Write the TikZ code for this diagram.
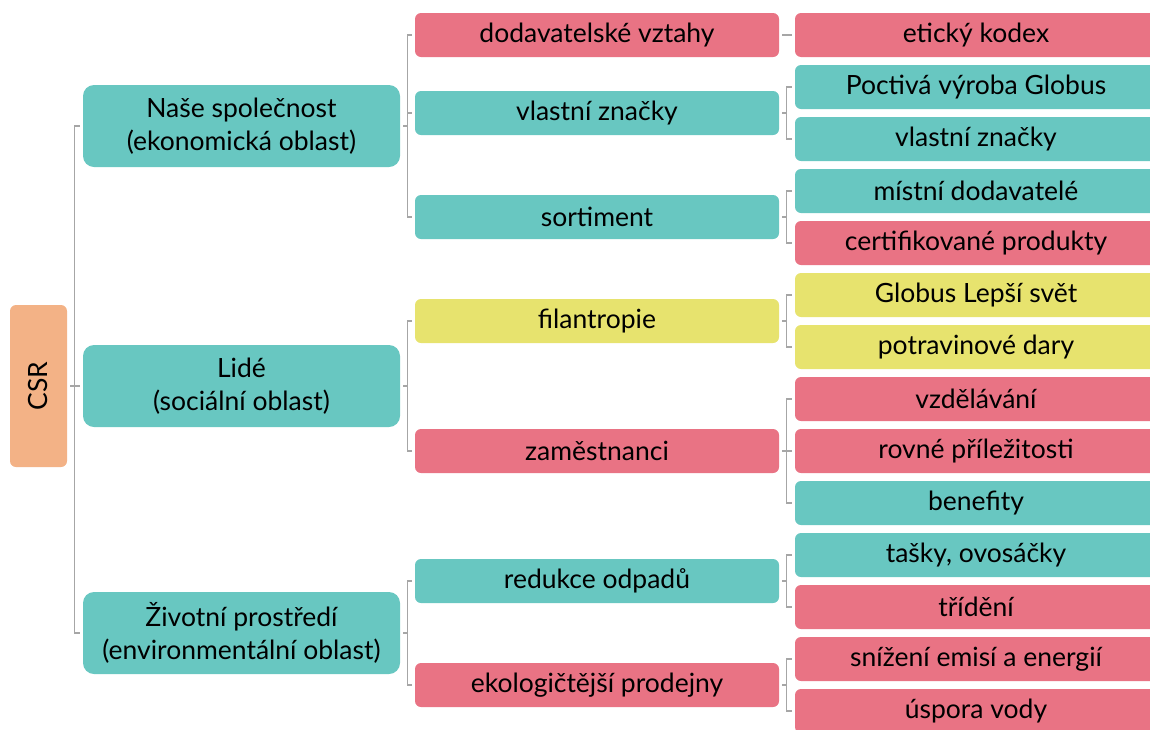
\documentclass[tikz,border=0pt]{standalone}
\usepackage{fontspec}
\setmainfont{Lato}
\definecolor{tealbox}{RGB}{104,199,193}
\definecolor{pinkbox}{RGB}{233,115,132}
\definecolor{yellowbox}{RGB}{231,227,110}
\definecolor{orangebox}{RGB}{243,178,134}
\definecolor{linkgray}{RGB}{166,166,166}
\begin{document}
\begin{tikzpicture}[x=1pt,y=-1pt,
  box/.style={rectangle,inner sep=0pt,align=center,text=black,
    font=\fontsize{26.5}{33}\selectfont},
  root/.style={box,fill=orangebox,minimum width=57pt,minimum height=162pt,rounded corners=6pt},
  lvlone/.style={box,minimum width=317pt,minimum height=82pt,rounded corners=11pt},
  lvltwo/.style={box,minimum width=364pt,minimum height=44pt,rounded corners=6pt},
  lvlthree/.style={box,minimum width=362pt,minimum height=44pt,rounded corners=6pt},
  teal/.style={fill=tealbox},
  pink/.style={fill=pinkbox},
  yellow/.style={fill=yellowbox},
  link/.style={draw=linkgray,line width=1.2pt,line cap=butt}]
\useasboundingbox (0,0) rectangle (1150,729);

% root
\node[root] (csr) at (38.5,386) {\rotatebox{90}{CSR}};

% first level
\node[lvlone,teal] (eko) at (241.5,126) {Naše společnost\\(ekonomická oblast)};
\node[lvlone,teal] (soc) at (241.5,386) {Lidé\\(sociální oblast)};
\node[lvlone,teal] (env) at (241.5,633) {Životní prostředí\\(environmentální oblast)};

% second level
\node[lvltwo,pink]   (dod) at (597,35)  {dodavatelské vztahy};
\node[lvltwo,teal]   (vla) at (597,113) {vlastní značky};
\node[lvltwo,teal]   (sor) at (597,217) {sortiment};
\node[lvltwo,yellow] (fil) at (597,321) {filantropie};
\node[lvltwo,pink]   (zam) at (597,451) {zaměstnanci};
\node[lvltwo,teal]   (red) at (597,581) {redukce odpadů};
\node[lvltwo,pink]   (eko2) at (597,685) {ekologičtější prodejny};

% third level
\node[lvlthree,pink]   (eti) at (976,35)  {etický kodex};
\node[lvlthree,teal]   (poc) at (976,87)  {Poctivá výroba Globus};
\node[lvlthree,teal]   (vlz) at (976,139) {vlastní značky};
\node[lvlthree,teal]   (mis) at (976,191) {místní dodavatelé};
\node[lvlthree,pink]   (cer) at (976,243) {certifikované produkty};
\node[lvlthree,yellow] (glo) at (976,295) {Globus Lepší svět};
\node[lvlthree,yellow] (pot) at (976,347) {potravinové dary};
\node[lvlthree,pink]   (vzd) at (976,399) {vzdělávání};
\node[lvlthree,pink]   (rov) at (976,451) {rovné příležitosti};
\node[lvlthree,teal]   (ben) at (976,503) {benefity};
\node[lvlthree,teal]   (tas) at (976,555) {tašky, ovosáčky};
\node[lvlthree,pink]   (tri) at (976,607) {třídění};
\node[lvlthree,pink]   (sni) at (976,659) {snížení emisí a energií};
\node[lvlthree,pink]   (usp) at (976,711) {úspora vody};

% bracket connectors: stub out of the parent, then a spine with ticks to each child
\newcommand{\bracketlink}[2]{%
  \draw[link] ([xshift=3pt]#1.east) -- ([xshift=7.5pt]#1.east);
  \foreach \c in {#2}{\draw[link] ([xshift=7.5pt]#1.east) |- ([xshift=-3pt]\c.west);}}

\bracketlink{csr}{eko,soc,env}
\bracketlink{eko}{dod,vla,sor}
\bracketlink{soc}{fil,zam}
\bracketlink{env}{red,eko2}
\bracketlink{dod}{eti}
\bracketlink{vla}{poc,vlz}
\bracketlink{sor}{mis,cer}
\bracketlink{fil}{glo,pot}
\bracketlink{zam}{vzd,rov,ben}
\bracketlink{red}{tas,tri}
\bracketlink{eko2}{sni,usp}
\end{tikzpicture}
\end{document}
